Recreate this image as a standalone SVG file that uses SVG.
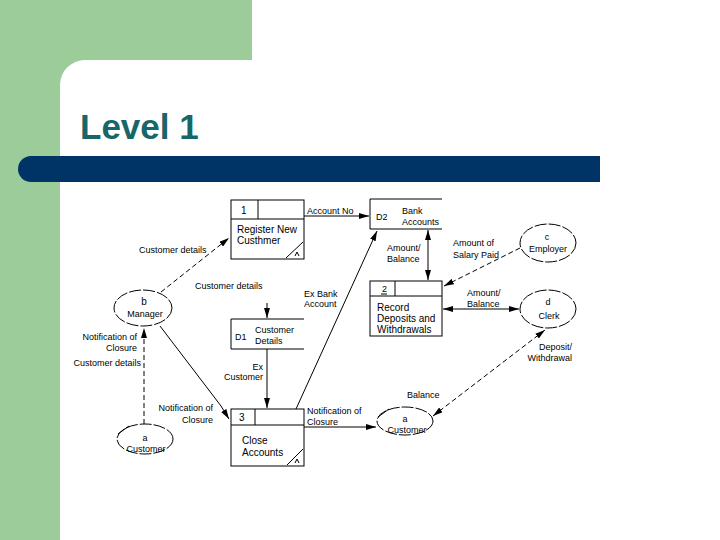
<svg xmlns="http://www.w3.org/2000/svg" width="720" height="540" viewBox="0 0 720 540">
<defs>
<style>
.t{font-family:"Liberation Sans",Arial,sans-serif;font-size:9px;fill:#000}
.tb{font-family:"Liberation Sans",Arial,sans-serif;font-size:10px;fill:#000}
.box{fill:#fff;stroke:#000;stroke-width:1}
.ln{fill:none;stroke:#000;stroke-width:1}
.ds{fill:none;stroke:#000;stroke-width:1;stroke-dasharray:5 3}
.el{fill:#fff;stroke:#000;stroke-width:1;stroke-dasharray:12 2}
</style>
<marker id="ah" viewBox="0 0 10 6" refX="10" refY="3" markerWidth="10" markerHeight="6" orient="auto-start-reverse" markerUnits="userSpaceOnUse">
<path d="M0,0 L10,3 L0,6 Z" fill="#000"/>
</marker>
</defs>
<rect x="0" y="0" width="720" height="540" fill="#fff"/>
<rect x="0" y="0" width="252" height="60" fill="#9dcc9b"/>
<rect x="0" y="0" width="60" height="540" fill="#9dcc9b"/>
<path d="M60,60 L85,60 A25,25 0 0 0 60,85 Z" fill="#9dcc9b"/>
<path d="M31,156 L600,156 L600,182 L31,182 A13,13 0 0 1 31,156 Z" fill="#003366"/>
<text x="80" y="139" font-family="Liberation Sans,Arial,sans-serif" font-weight="bold" font-size="35" fill="#17676a">Level 1</text>

<g id="connectors">
<line class="ds" x1="161" y1="292" x2="229" y2="238" marker-end="url(#ah)"/>
<text class="t" x="139" y="253">Customer details</text>
<line class="ln" x1="304" y1="216" x2="369" y2="216" marker-end="url(#ah)"/>
<text class="t" x="307" y="214">Account No</text>
<line class="ln" x1="428" y1="230" x2="428" y2="280" marker-start="url(#ah)" marker-end="url(#ah)"/>
<text class="t" x="387" y="251">Amount/</text>
<text class="t" x="387" y="262">Balance</text>
<line class="ds" x1="520" y1="248" x2="444" y2="286" marker-end="url(#ah)"/>
<text class="t" x="453" y="246">Amount of</text>
<text class="t" x="453" y="258">Salary Paid</text>
<line class="ln" x1="443" y1="309" x2="519" y2="309" marker-start="url(#ah)" marker-end="url(#ah)"/>
<text class="t" x="467" y="296">Amount/</text>
<text class="t" x="467" y="307">Balance</text>
<line class="ds" x1="433" y1="416" x2="545" y2="330" marker-start="url(#ah)" marker-end="url(#ah)"/>
<text class="t" x="572" y="350" text-anchor="end">Deposit/</text>
<text class="t" x="572" y="361" text-anchor="end">Withdrawal</text>
<text class="t" x="407" y="398">Balance</text>
<line class="ds" x1="144" y1="424" x2="144" y2="328" marker-end="url(#ah)"/>
<text class="t" x="137" y="340" text-anchor="end">Notification of</text>
<text class="t" x="137" y="351" text-anchor="end">Closure</text>
<text class="t" x="141" y="366" text-anchor="end">Customer details</text>
<path class="ln" d="M160,326 L221,406 L229,419" marker-end="url(#ah)"/>
<text class="t" x="213" y="411" text-anchor="end">Notification of</text>
<text class="t" x="213" y="423" text-anchor="end">Closure</text>
<line class="ln" x1="267" y1="303" x2="267" y2="318" marker-end="url(#ah)"/>
<text class="t" x="195" y="289">Customer details</text>
<line class="ln" x1="267" y1="349" x2="267" y2="408" marker-end="url(#ah)"/>
<text class="t" x="263" y="370" text-anchor="end">Ex</text>
<text class="t" x="263" y="380" text-anchor="end">Customer</text>
<line class="ln" x1="296" y1="409" x2="377" y2="231" marker-end="url(#ah)"/>
<text class="t" x="304" y="297">Ex Bank</text>
<text class="t" x="304" y="307">Account</text>
<line class="ln" x1="304" y1="427" x2="376" y2="427" marker-end="url(#ah)"/>
<text class="t" x="307" y="414">Notification of</text>
<text class="t" x="307" y="425">Closure</text>
</g>

<g id="p1">
<rect class="box" x="231" y="200" width="73" height="59"/>
<line class="ln" x1="231" y1="219" x2="304" y2="219"/>
<line class="ln" x1="258" y1="200" x2="258" y2="219"/>
<line class="ln" x1="286" y1="258" x2="303" y2="242"/>
<path class="ln" d="M295,256 L297,252 L299,256"/>
<text class="tb" x="241" y="214">1</text>
<text class="tb" x="237" y="233">Register New</text>
<text class="tb" x="237" y="244">Custhmer</text>
</g>

<g id="d2">
<path class="ln" d="M442,199 L370,199 L370,229 L442,229"/>
<text class="t" x="376" y="220">D2</text>
<text class="t" x="402" y="214">Bank</text>
<text class="t" x="402" y="225">Accounts</text>
</g>

<g id="p2">
<rect class="box" x="370" y="281" width="72" height="55"/>
<line class="ln" x1="370" y1="296" x2="442" y2="296"/>
<line class="ln" x1="395" y1="281" x2="395" y2="296"/>
<text class="t" x="382" y="292">2</text>
<line class="ln" x1="381" y1="294" x2="387" y2="294"/>
<text class="tb" x="377" y="311">Record</text>
<text class="tb" x="377" y="322">Deposits and</text>
<text class="tb" x="377" y="333">Withdrawals</text>
</g>

<g id="d1">
<path class="ln" d="M304,319 L231,319 L231,349 L304,349"/>
<text class="t" x="235" y="340">D1</text>
<text class="t" x="255" y="333">Customer</text>
<text class="t" x="255" y="344">Details</text>
</g>

<g id="p3">
<rect class="box" x="231" y="409" width="73" height="57"/>
<line class="ln" x1="231" y1="425" x2="304" y2="425"/>
<line class="ln" x1="255" y1="409" x2="255" y2="425"/>
<line class="ln" x1="287" y1="465" x2="303" y2="449"/>
<path class="ln" d="M295,463 L297,459 L299,463"/>
<text class="tb" x="239" y="421">3</text>
<text class="tb" x="242" y="444">Close</text>
<text class="tb" x="242" y="456">Accounts</text>
</g>

<g id="manager">
<ellipse class="el" cx="143" cy="308" rx="29" ry="18"/>
<text class="tb" x="144" y="305" text-anchor="middle">b</text>
<text class="t" x="145" y="317" text-anchor="middle">Manager</text>
</g>

<g id="employer">
<ellipse class="el" cx="548" cy="243" rx="28" ry="19"/>
<text class="t" x="547" y="240" text-anchor="middle">c</text>
<text class="t" x="548" y="252" text-anchor="middle">Employer</text>
</g>

<g id="clerk">
<ellipse class="el" cx="548" cy="309" rx="28" ry="19"/>
<text class="t" x="548" y="305" text-anchor="middle">d</text>
<text class="t" x="549" y="319" text-anchor="middle">Clerk</text>
</g>

<g id="customer-left">
<ellipse class="el" cx="145" cy="439" rx="28" ry="15"/>
<line class="ln" x1="118" y1="434" x2="129" y2="426"/>
<text class="t" x="145" y="441" text-anchor="middle">a</text>
<text class="t" x="146" y="452" text-anchor="middle">Customer</text>
</g>

<g id="customer-right">
<ellipse class="el" cx="405" cy="421" rx="28" ry="14"/>
<line class="ln" x1="378" y1="417" x2="389" y2="409"/>
<text class="t" x="405" y="422" text-anchor="middle">a</text>
<text class="t" x="407" y="433" text-anchor="middle">Customer</text>
</g>
</svg>
